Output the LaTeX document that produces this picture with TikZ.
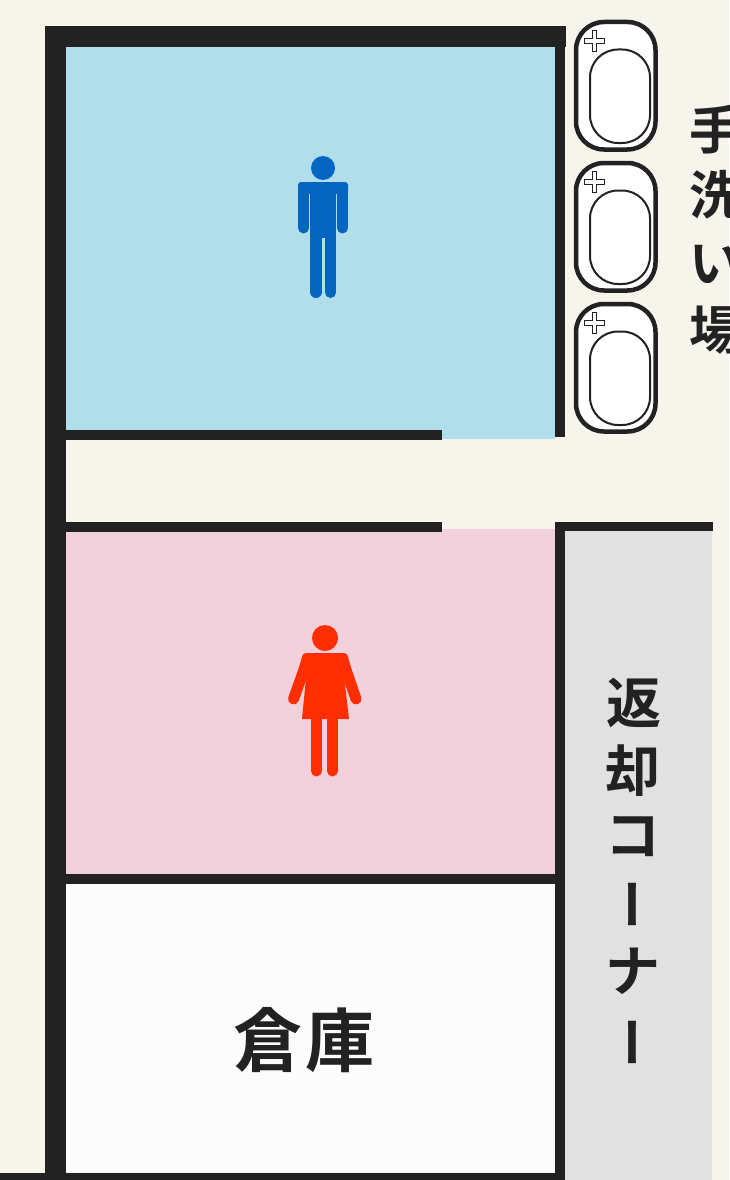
\documentclass[tikz,border=0pt]{standalone}
\usepackage{fontspec}
\newfontfamily\cjk{Noto Sans CJK JP Bold}
\definecolor{bgc}{HTML}{F7F4EC}
\definecolor{wallc}{HTML}{222222}
\definecolor{bluec}{HTML}{B0DFEB}
\definecolor{pinkc}{HTML}{F2D1DC}
\definecolor{storec}{HTML}{FCFCFC}
\definecolor{grayc}{HTML}{E1E1E1}
\definecolor{manc}{HTML}{0565C0}
\definecolor{womanc}{HTML}{FF2E00}
\tikzset{
  x=1pt,y=-1pt,
  wall/.style={fill=wallc,draw=none},
  sinkouter/.style={draw=wallc,line width=4.5pt,fill=white,rounded corners=28pt},
  sinkinner/.style={draw=wallc,line width=2pt,fill=white,rounded corners=28pt},
  label/.style={font=\cjk\fontsize{52}{52}\selectfont,text=wallc,inner sep=0pt},
  biglabel/.style={font=\cjk\fontsize{55}{55}\selectfont,text=wallc,inner sep=0pt},
  limb/.style={line width=11pt,line cap=round},
}
\newcommand{\sinkunit}[1]{%
  \begin{scope}[yshift=-#1pt]
    \draw[sinkouter] (576,22) rectangle (655.5,149.5);
    \draw[sinkinner] (590,49.5) rectangle (650,143);
    \draw[draw=wallc,line width=.7pt,fill=white]
      (592,30) -- (596.5,30) -- (596.5,38) -- (604.5,38) -- (604.5,43) -- (596.5,43) -- (596.5,51) -- (592,51) -- (592,43) -- (584.5,43) -- (584.5,38) -- (592,38) -- cycle;
  \end{scope}}
\begin{document}
\begin{tikzpicture}
\useasboundingbox (0,0) rectangle (729,1180);
\clip (0,0) rectangle (729,1180);
\fill[bgc] (0,0) rectangle (729,1180);
% rooms
\fill[bluec] (66,47) rectangle (555,439);
\fill[pinkc] (66,529) rectangle (555,874);
\fill[storec] (66,884) rectangle (555,1172);
\fill[grayc] (565,531) rectangle (712,1180);
% walls
\fill[wall] (45,26) rectangle (66,1180);
\fill[wall] (45,26) rectangle (566,47);
\fill[wall] (555,47) rectangle (565,437);
\fill[wall] (66,430) rectangle (442,440);
\fill[wall] (66,522) rectangle (442,532);
\fill[wall] (555,522) rectangle (565,1180);
\fill[wall] (555,522) rectangle (713,531);
\fill[wall] (66,874) rectangle (555,884);
\fill[wall] (0,1172.5) rectangle (555,1180);
% sinks
\sinkunit{0}
\sinkunit{141}
\sinkunit{282}
% man
\fill[manc] (323,168) circle (12);
\fill[manc,rounded corners=3pt] (298,194) -- (298,182) -- (348,182) -- (348,194) -- cycle;
\fill[manc] (310,185) rectangle (336,238);
\fill[manc] (310,235) rectangle (322,293);
\fill[manc] (325,238) rectangle (336,293);
\fill[manc] (322,235) rectangle (325,237.5);
\draw[manc,limb] (303.5,190) -- (303.5,228);
\draw[manc,limb] (342.5,190) -- (342.5,228);
\draw[manc,line width=12pt,line cap=round] (316,240) -- (316,292);
\draw[manc,limb] (330.5,240) -- (330.5,292.5);
% woman
\fill[womanc] (325,638) circle (13);
\fill[womanc,rounded corners=3pt] (303,653) -- (347,653) -- (352,672) -- (298,672) -- cycle;
\fill[womanc] (307,668) -- (343,668) -- (349,719) -- (302,719) -- cycle;
\draw[womanc,limb] (306,664) -- (293.5,699);
\draw[womanc,limb] (344,664) -- (356,699);
\draw[womanc,limb] (316.5,715) -- (316.5,771);
\draw[womanc,limb] (332.5,715) -- (332.5,771);
% labels
\node[label] (te) at (715,130) {手};
\node[label] (arai) at (715,195) {洗};
\node[label] (i) at (715,264) {い};
\node[label] (ba) at (715,330) {場};
\node[biglabel] (hen) at (633.5,703) {返};
\node[biglabel] (kyaku) at (632.5,771) {却};
\node[biglabel] (ko) at (633,837) {コ};
\node[label,rotate=-90] (bar1) at (625,904) {ー};
\node[biglabel] (na) at (633,971) {ナ};
\node[label,rotate=-90] (bar2) at (625,1042) {ー};
\node[label,font=\cjk\fontsize{69}{69}\selectfont] (sou) at (268,1040) {倉};
\node[label,font=\cjk\fontsize{69}{69}\selectfont] (ko2) at (340,1040) {庫};
\end{tikzpicture}
\end{document}
